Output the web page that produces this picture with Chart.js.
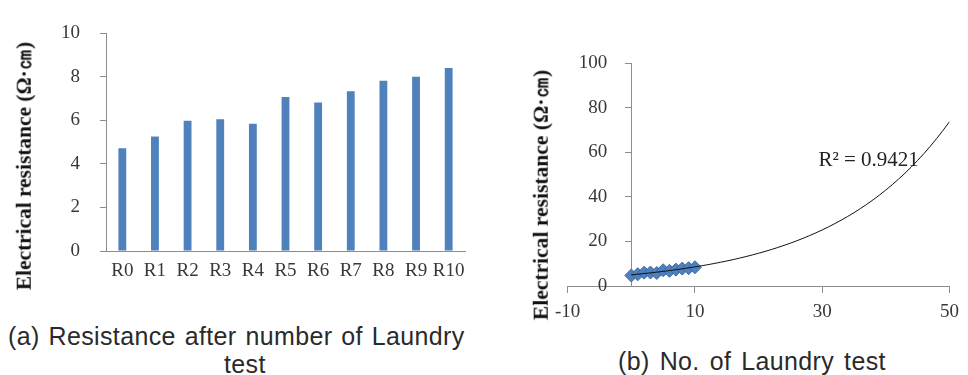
<!DOCTYPE html>
<html>
<head>
<meta charset="utf-8">
<script src="https://cdn.jsdelivr.net/npm/chart.js@4.4.1/dist/chart.umd.min.js"></script>
<style>
  html, body { margin: 0; padding: 0; background: #ffffff; }
  body { width: 968px; height: 375px; position: relative; overflow: hidden; }
  .box { position: absolute; }
  .cap { position: absolute; font-family: "Liberation Sans", "DejaVu Sans", sans-serif;
         font-size: 26px; line-height: 26px; color: #2a2a2a; white-space: nowrap; transform-origin: 0 0; letter-spacing: 0.4px; }
  .ytitle { position: absolute; font-family: "Liberation Serif", "Times New Roman", serif; font-weight: bold;
            font-size: 22px; line-height: 24px; color: #111; white-space: nowrap; }
</style>
</head>
<body>
<div class="box" style="left:0;top:0;width:480px;height:300px;"><canvas id="barChart"></canvas></div>
<div class="box" style="left:490px;top:30px;width:478px;height:300px;"><canvas id="scatterChart"></canvas></div>
<div class="ytitle" id="titleA"></div>
<div class="ytitle" id="titleB"></div>
<div class="cap" id="capA1" style="left:8px;top:323px;">(a) Resistance after number of Laundry</div>
<div class="cap" id="capA2" style="left:229px;top:351px;">test</div>
<div class="cap" id="capB" style="left:618px;top:348px;">(b) No. of Laundry test</div>
<script>
// ---- data ----
const categories = ['R0', 'R1', 'R2', 'R3', 'R4', 'R5', 'R6', 'R7', 'R8', 'R9', 'R10'];
const resistance = [4.71, 5.25, 5.98, 6.04, 5.84, 7.06, 6.81, 7.33, 7.81, 7.99, 8.40];
const laundryCount = [0, 1, 2, 3, 4, 5, 6, 7, 8, 9, 10];
const barYTicks = [0, 2, 4, 6, 8, 10];
const scatterXTicks = [-10, 10, 30, 50];
const scatterYTicks = [0, 20, 40, 60, 80, 100];
const trendEndX = 50;
const r2Label = 'R\u00B2 = 0.9421';
const yTitle = 'Electrical resistance (\u03A9\u00B7\u339D)';

// ---- text placement helpers (HTML text) ----
const capScale = 0.96;
function fitCaption(id, targetWidth) {
  const el = document.getElementById(id);
  const text = el.textContent;
  const spaces = (text.match(/ /g) || []).length;
  const w = el.offsetWidth;
  el.style.wordSpacing = ((targetWidth / capScale - w) / spaces) + 'px';
  el.style.transform = 'scaleX(' + capScale + ')';
}
function centerCaption(id, cx) {
  const el = document.getElementById(id);
  const w = el.offsetWidth * capScale;
  el.style.left = (cx - w / 2) + 'px';
  el.style.transform = 'scaleX(' + capScale + ')';
}
function placeTitle(id, cx, cy, length) {
  const el = document.getElementById(id);
  el.textContent = yTitle;
  const w = el.offsetWidth, h = el.offsetHeight;
  el.style.left = (cx - w / 2) + 'px';
  el.style.top = (cy - h / 2) + 'px';
  el.style.transform = 'rotate(-90deg) scaleX(' + (length / w) + ')';
}
fitCaption('capA1', 457);
centerCaption('capA2', 245);
fitCaption('capB', 268);
placeTitle('titleA', 23, 166, 248);
placeTitle('titleB', 540, 195, 250);

// ---- exponential trendline fitted to the data (least squares on ln y) ----
function expFit(xs, ys) {
  const n = xs.length;
  const ly = ys.map(v => Math.log(v));
  const mx = xs.reduce((a, b) => a + b, 0) / n;
  const my = ly.reduce((a, b) => a + b, 0) / n;
  let sxy = 0, sxx = 0;
  for (let i = 0; i < n; i++) { sxy += (xs[i] - mx) * (ly[i] - my); sxx += (xs[i] - mx) ** 2; }
  const b = sxy / sxx;
  const a = Math.exp(my - b * mx);
  return x => a * Math.exp(b * x);
}
const fit = expFit(laundryCount, resistance);
const trendPoints = [];
for (let x = laundryCount[0]; x <= trendEndX; x++) trendPoints.push({ x: x, y: fit(x) });

const serif = '"Liberation Serif", "Times New Roman", serif';
const axisGrey = '#8c8c8c';
const tickColor = '#383838';

// ---- (a) bar chart ----
new Chart(document.getElementById('barChart'), {
  type: 'bar',
  data: {
    labels: categories,
    datasets: [{
      data: resistance,
      backgroundColor: '#4f81bd',
      categoryPercentage: 1.0,
      barPercentage: 0.24
    }]
  },
  options: {
    responsive: true, maintainAspectRatio: false, animation: false,
    layout: { padding: { left: 12, right: 15, top: 33, bottom: 14 } },
    plugins: { legend: { display: false }, tooltip: { enabled: false } },
    scales: {
      x: {
        grid: { display: false },
        border: { display: true, color: axisGrey, width: 1 },
        ticks: { color: tickColor, font: { family: serif, size: 19 }, padding: 1, maxRotation: 0, autoSkip: false },
        afterFit: s => { s.height = 35; }
      },
      y: {
        min: 0, max: 10,
        afterBuildTicks: s => { s.ticks = barYTicks.map(v => ({ value: v })); },
        grid: { display: true, drawOnChartArea: false, drawTicks: true, tickLength: 6, color: axisGrey },
        border: { display: true, color: axisGrey, width: 1 },
        ticks: { color: tickColor, font: { family: serif, size: 19 }, padding: 20 },
        afterFit: s => { s.width = 94; }
      }
    }
  }
});

// ---- (b) scatter with exponential trendline ----
const r2Plugin = {
  id: 'r2Label',
  afterDatasetsDraw(chart) {
    const { ctx, scales } = chart;
    ctx.save();
    ctx.font = '21px ' + serif;
    ctx.fillStyle = '#222';
    ctx.textAlign = 'left';
    ctx.textBaseline = 'middle';
    ctx.fillText(r2Label, scales.x.getPixelForValue(29.4), scales.y.getPixelForValue(56.5));
    ctx.restore();
  }
};

new Chart(document.getElementById('scatterChart'), {
  type: 'scatter',
  data: {
    datasets: [
      {
        type: 'line',
        xAxisID: 'x', yAxisID: 'y',
        data: trendPoints,
        borderColor: '#111',
        borderWidth: 1,
        pointRadius: 0,
        fill: false,
        tension: 0,
        order: 0
      },
      {
        xAxisID: 'x', yAxisID: 'y',
        data: laundryCount.map((x, i) => ({ x: x, y: resistance[i] })),
        pointStyle: 'rectRot',
        pointRadius: 6.5,
        backgroundColor: '#4f81bd',
        borderColor: '#3a6aa5',
        borderWidth: 1,
        order: 1
      }
    ]
  },
  options: {
    responsive: true, maintainAspectRatio: false, animation: false,
    layout: { padding: { left: 0, right: 13, top: 33, bottom: 44 } },
    plugins: { legend: { display: false }, tooltip: { enabled: false } },
    scales: {
      x: {
        type: 'linear', min: -10, max: 50,
        position: { y: 0 },
        afterBuildTicks: s => { s.ticks = scatterXTicks.map(v => ({ value: v })); },
        grid: { display: true, drawOnChartArea: false, drawTicks: true, tickLength: 6, color: axisGrey },
        border: { display: true, color: axisGrey, width: 1 },
        ticks: { color: tickColor, font: { family: serif, size: 19 }, padding: 9, maxRotation: 0 },
        afterFit: s => { s.height = 0; }
      },
      y: {
        type: 'linear', min: 0, max: 100,
        position: { x: 0 },
        afterBuildTicks: s => { s.ticks = scatterYTicks.map(v => ({ value: v })); },
        grid: { display: true, drawOnChartArea: false, drawTicks: true, tickLength: 6, color: axisGrey },
        border: { display: true, color: axisGrey, width: 1 },
        ticks: { display: false },
        afterFit: s => { s.width = 0; }
      },
      yl: {
        type: 'linear', min: 0, max: 100,
        position: 'left',
        display: true,
        afterBuildTicks: s => { s.ticks = scatterYTicks.map(v => ({ value: v })); },
        grid: { display: false, drawTicks: false },
        border: { display: false },
        ticks: { display: true, mirror: true, crossAlign: 'far', color: tickColor, font: { family: serif, size: 19 }, padding: 11 },
        afterFit: s => { s.width = 77.7; }
      }
    }
  },
  plugins: [r2Plugin]
});
</script>
</body>
</html>
